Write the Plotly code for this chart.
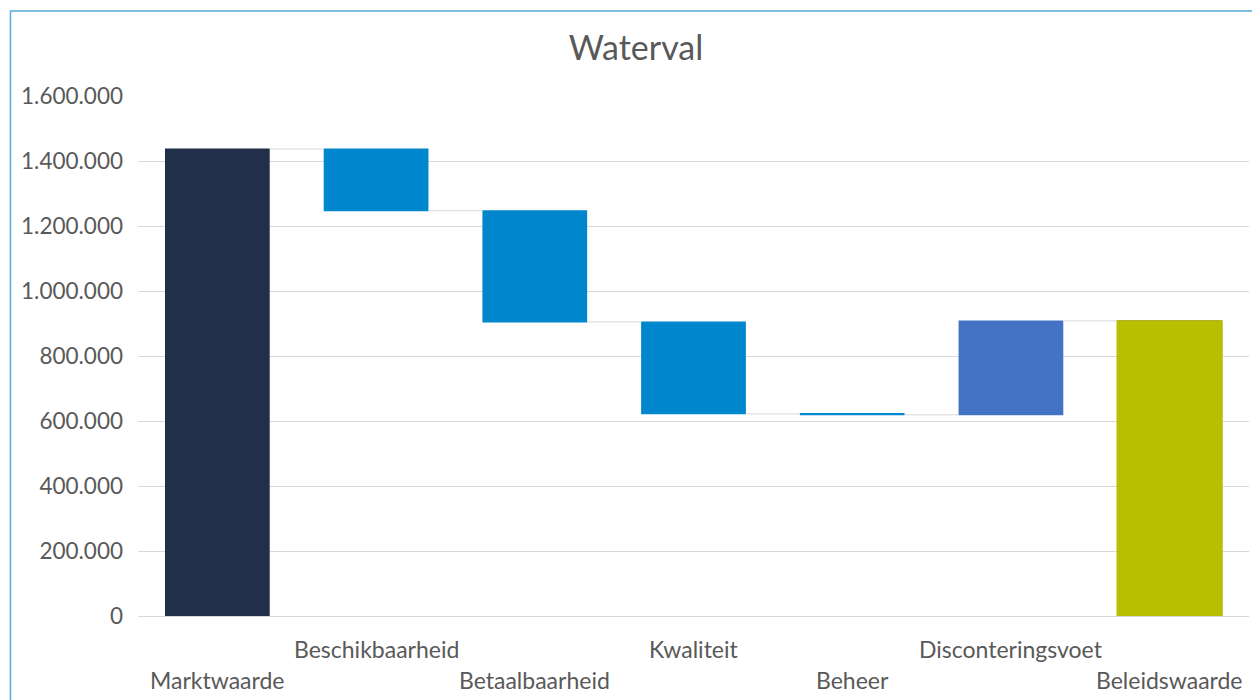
import plotly.graph_objects as go

# Waterfall data: start value, changes, end total
categories = ["Marktwaarde", "Beschikbaarheid", "Betaalbaarheid", "Kwaliteit",
              "Beheer", "Disconteringsvoet", "Beleidswaarde"]
measures = ["absolute", "relative", "relative", "relative",
            "relative", "relative", "total"]
changes = [1437000, -190000, -342000, -283000, -3000, 289000, 0]

end_label = categories[-1]
end_value = sum(changes)

tick_values = [0, 200000, 400000, 600000, 800000, 1000000, 1200000, 1400000, 1600000]
tick_labels = ["0", "200.000", "400.000", "600.000", "800.000",
               "1.000.000", "1.200.000", "1.400.000", "1.600.000"]

FONT = "Lato"
TEXT_COLOR = "#595959"
GRID = "#D9D9D9"
END_COLOR = "#B8BF00"

fig = go.Figure()

fig.add_trace(go.Waterfall(
    x=categories,
    y=changes,
    measure=measures,
    width=0.66,
    decreasing=dict(marker=dict(color="#0086CD", line=dict(width=0))),
    increasing=dict(marker=dict(color="#4472C4", line=dict(width=0))),
    totals=dict(marker=dict(color="#212F4B", line=dict(width=0))),
    connector=dict(mode="between", line=dict(color=GRID, width=1)),
    showlegend=False,
    hoverinfo="x+y",
))

# closing total in its own colour
fig.add_trace(go.Bar(
    x=[end_label],
    y=[end_value],
    width=0.66,
    marker=dict(color=END_COLOR, line=dict(color=END_COLOR, width=1.5)),
    showlegend=False,
))

# staggered category labels (two rows)
for i, name in enumerate(categories):
    fig.add_annotation(
        x=name, xref="x",
        y=-0.123 if i % 2 == 0 else -0.0635, yref="paper",
        text=name, showarrow=False,
        xanchor="center", yanchor="middle",
        font=dict(family=FONT, size=23, color=TEXT_COLOR),
    )

# chart frame
fig.add_shape(
    type="rect", xref="paper", yref="paper",
    x0=-0.1148, x1=1.05, y0=-0.3, y1=1.1635,
    line=dict(color="#55ACD7", width=1.5),
    fillcolor="rgba(0,0,0,0)", layer="above",
)

fig.update_layout(
    width=1252, height=700,
    margin=dict(l=138, r=3, t=96, b=84),
    paper_bgcolor="white", plot_bgcolor="white",
    title=dict(text="Waterval", x=0.508, xanchor="center",
               y=0.932, yanchor="middle",
               font=dict(family=FONT, size=34, color=TEXT_COLOR)),
    font=dict(family=FONT, color=TEXT_COLOR),
    showlegend=False,
    xaxis=dict(
        type="category", categoryorder="array", categoryarray=categories,
        showticklabels=False, showgrid=False, showline=False,
        zeroline=False, ticks="",
    ),
    yaxis=dict(
        range=[0, 1600000],
        tickvals=tick_values, ticktext=tick_labels,
        showgrid=True, gridcolor=GRID, gridwidth=1,
        zeroline=True, zerolinecolor=GRID, zerolinewidth=1,
        showline=False, ticks="", ticklabelstandoff=14,
        tickfont=dict(family=FONT, size=22.5, color=TEXT_COLOR),
    ),
)

fig.write_html("out.html")
